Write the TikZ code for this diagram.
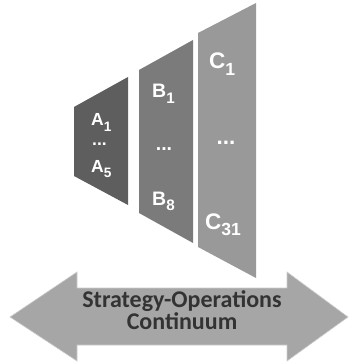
\documentclass[tikz,border=0pt]{standalone}
\usepackage{fontspec}
\setmainfont{Liberation Sans}
\newfontfamily\arrowfont{Carlito}
\usepackage{graphicx}
\usepackage{tikz}
\usetikzlibrary{positioning}
\definecolor{grayA}{HTML}{5E5E5E}
\definecolor{grayB}{HTML}{7B7B7B}
\definecolor{grayC}{HTML}{999999}
\definecolor{grayArrow}{HTML}{A6A6A6}
\definecolor{textDark}{HTML}{333333}
% subscript that stays fairly large, as in the picture
\newcommand{\lsub}[1]{\raisebox{-0.3em}{\scalebox{0.78}{#1}}}
\tikzset{
    x=1pt, y=-1pt, % pixel-like units, y grows downward
    panel/.style={ % Sets the properties for each slanted panel
        draw=none
    },
    lbl/.style={ % white labels inside the panels
        text=white,
        inner sep=0pt,
        anchor=base west
    },
    dots/.style={
        text=white,
        inner sep=0pt
    },
    sizeA/.style={font=\fontsize{17.5}{17.5}\selectfont\bfseries},
    sizeB/.style={font=\fontsize{19.5}{19.5}\selectfont\bfseries},
    sizeC/.style={font=\fontsize{22.5}{22.5}\selectfont\bfseries},
    band/.style={ % the two-headed arrow
        fill=grayArrow,
        draw=gray!40,
        line width=0.6pt
    },
    bandtext/.style={
        text=textDark,
        font=\arrowfont\fontsize{24}{22}\selectfont\bfseries,
        align=center,
        inner sep=0pt
    }
}

\begin{document}
\begin{tikzpicture}
    \useasboundingbox (0,0) rectangle (349,363);

    % panels
    \fill[panel, grayA] (74,107) -- (128,77) -- (128,205) -- (74,176) -- cycle;
    \fill[panel, grayB] (139,70) -- (193,40) -- (193,243) -- (139,213) -- cycle;
    \fill[panel, grayC] (198,33) -- (256,3) -- (256,278) -- (198,247) -- cycle;

    % panel labels
    \node[lbl, sizeA] (a1) at (91,126) {A\lsub{1}};
    \node[dots, sizeA] (adots) at (99.5,144) {...};
    \node[lbl, sizeA] (a5) at (91,172) {A\lsub{5}};

    \node[lbl, sizeB] (b1) at (152,98) {B\lsub{1}};
    \node[dots, sizeB] (bdots) at (164,149) {...};
    \node[lbl, sizeB] (b8) at (152,205) {B\lsub{8}};

    \node[lbl, sizeC] (c1) at (209,69) {C\lsub{1}};
    \node[dots, sizeC] (cdots) at (226,143) {...};
    \node[lbl, sizeC] (c31) at (205,229) {C\lsub{31}};

    % continuum arrow
    \draw[band] (10,317) -- (77,272) -- (77,288) -- (287,288) -- (287,272)
        -- (348,317) -- (287,361) -- (287,345) -- (77,345) -- (77,361) -- cycle;
    \node[bandtext] (cont) at (182,310) {Strategy-Operations\\Continuum};
\end{tikzpicture}
\end{document}
